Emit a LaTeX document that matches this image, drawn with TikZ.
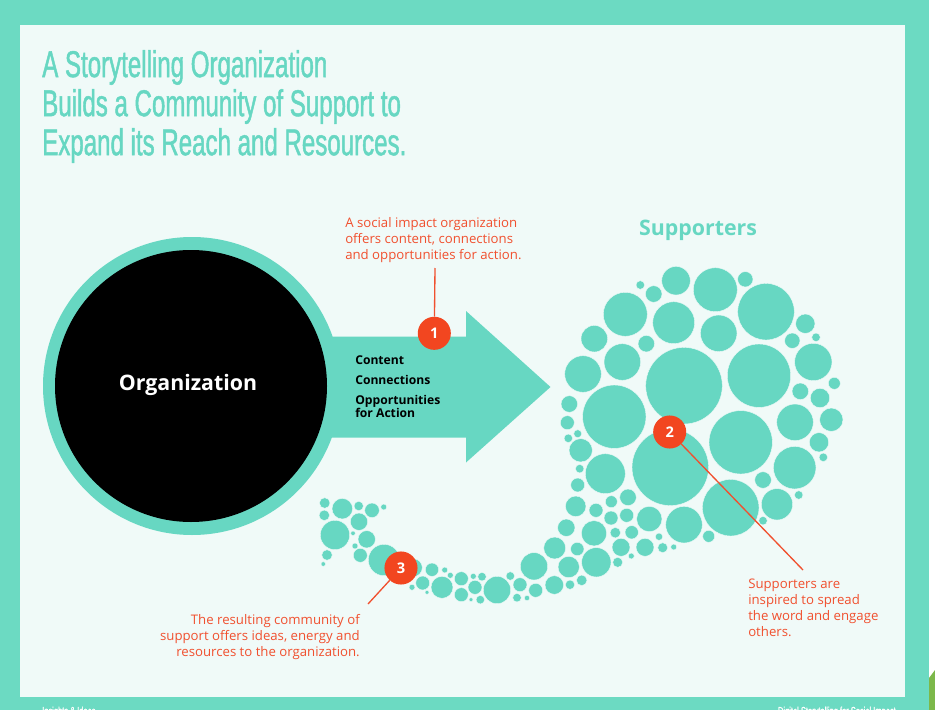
\documentclass[tikz,border=0pt]{standalone}
\usepackage{xcolor}
\usepackage{fontspec}
\setmainfont{Open Sans}
\newfontfamily\titlefont[FakeStretch=0.645,FakeBold=1.2]{Liberation Sans}
\usetikzlibrary{
  arrows.meta,
  positioning
}
\definecolor{stEdge}{HTML}{6CDAC2}
\definecolor{stTeal}{HTML}{67D7C2}
\definecolor{stPanel}{HTML}{F0FAF8}
\definecolor{stRed}{HTML}{F24620}
\definecolor{stNote}{HTML}{F0502F}
\definecolor{stCorner}{HTML}{7CB84A}
\tikzset{
  bubble/.style={fill=stTeal, draw=stPanel, line width=0.3pt},
  headline/.style={font=\titlefont\fontsize{28}{29.3}\selectfont, text=stTeal, align=left, anchor=west, inner sep=0pt},
  note/.style={font=\fontsize{9.9}{12}\selectfont, text=stNote, inner sep=0pt},
  badge/.style={circle, fill=stRed, minimum size=24.8pt, inner sep=0pt, text=white, font=\fontsize{11}{13}\selectfont\bfseries},
  leader/.style={stNote, line width=1pt},
  listlabel/.style={font=\fontsize{9.1}{9.75}\selectfont\bfseries, align=left, anchor=west, inner sep=0pt},
  biglabel/.style={font=\fontsize{16}{18}\selectfont\bfseries},
  footer/.style={font=\titlefont\fontsize{8.7}{10}\selectfont, text=white, inner sep=0pt}
}
\begin{document}
\begin{tikzpicture}[x=0.75pt,y=-0.75pt]
  \clip (0,0) rectangle (935,710);
  \fill[stEdge] (0,0) rectangle (935,710);
  \fill[white] (929,0) rectangle (935,680);
  \fill[stCorner] (929,678) -- (935,670) -- (935,710) -- (929,710) -- cycle;
  \fill[stPanel] (20,25) rectangle (905,697);

  \node[footer, anchor=west] (leftfoot) at (42,712) {Insights \& Ideas};
  \node[footer, anchor=east] (rightfoot) at (896,712) {Digital Storytelling for Social Impact};

  \node[headline] (title) at (42,106.5) {A Storytelling Organization\\Builds a Community of Support to\\Expand its Reach and Resources.};

  % organization and arrow
  \node[circle, fill=stTeal, minimum size=223.5pt, inner sep=0pt] (ring) at (192,386) {};
  \fill[stTeal] (325,336.5) -- (466,336.5) -- (466,311) -- (550.5,387) -- (466,462.5) -- (466,437.5) -- (325,437.5) -- cycle;
  \node[circle, fill=black, minimum size=204pt, inner sep=0pt] (org) at (191,386) {};
  \node[biglabel, text=white] (orglabel) at (188,385) {Organization};

  \node[listlabel] (content) at (355,360) {Content};
  \node[listlabel, below=15pt of content.west, anchor=west] (connect) {Connections};
  \node[listlabel, below=19.5pt of connect.west, anchor=west] (opport) {Opportunities\\for Action};

  % supporters
  \foreach \x/\y/\r in {
    640.3/285/4.3, 653.7/294/8.3, 676/280.7/14.3, 715.3/289.7/22, 745.3/279.3/7.7, 766/311.7/28.3,
    805.3/323.7/9.7, 792.3/340.7/7.7, 816/337.3/4.3, 813.3/362/18.7, 834.3/383.3/6, 800.3/391.3/8.3,
    820/398/9.7, 831.3/419.7/11.7, 795/422.3/18.3, 819/442.3/9.7, 823.3/457.3/4.3, 794.7/467.7/21.3,
    798.7/495/4.3, 777/504.3/15.7, 763/480/8.3, 763/520.7/4.3, 730.7/507.7/28.3, 740.7/442.3/31.7,
    759/375.7/31.7, 718.7/333.3/18.3, 673.7/322.7/21, 625.3/314.3/22, 594.3/338.7/13.3, 646.3/343.7/8.3,
    622.3/362/18.3, 583/374/18.3, 684/385.7/38.3, 614.3/416.7/31.7, 670.3/467.3/38.3, 569.3/404/8.3,
    567.3/422.7/7, 577.7/433.7/4, 568.3/438.3/4.3, 580.7/450.3/11.7, 579.7/468.7/4.3, 605.3/473.7/20,
    577.7/485/7, 575.7/506.3/10.3, 596/510.3/7, 611.3/501.7/6, 628/497.3/8.3, 611/518/7,
    626.7/515.3/7, 649.3/519/12.7, 684/524.7/18.3, 708.7/536.3/6, 566.3/527.7/8.7, 594/533.3/12.7,
    615.3/532.7/5.3, 631.7/532.3/6.7, 645/547.3/9, 662.7/547.7/5, 673.7/547/3, 659/536.7/3.7,
    631.3/556/3, 621/547.3/9, 617.7/562.3/5,
    % tail
    324.7/503/5.3, 324.3/515.3/5.3, 342.3/508.7/10.3, 358.7/506/4.7, 372/510.3/7.3, 383.7/507/3,
    359/521.7/8.7, 335/535/14.7, 353/533.3/2.3, 366.7/539.3/8.7, 355/546/3, 360.3/555.3/7,
    327/555/5.3, 323.3/564/2.3, 384/560/15.7, 413.3/567.7/9, 432/569.7/6.7, 444.7/570/3,
    450.3/575.3/3, 422.7/583/7, 412/587.3/3, 427/592.3/2, 442/587.3/11, 461.3/578.7/7,
    473.3/576.3/3, 482/576.7/4.3, 475/587.3/7, 461.3/594.7/7, 471/599.7/2, 480.3/599.7/4.3,
    497/590/13.7, 510.3/576/4.3, 520/584.7/7, 517/597.7/4.3, 527/598/2.7, 535.7/590.3/7,
    534/566.3/13.7, 554.7/548/11, 554.3/585/9.3, 570/584.7/4.7, 581.7/580.3/5.3, 568.7/567/10.7,
    577.3/549/6.7, 596.3/562.3/14.7}
    \path[bubble] (\x,\y) circle[radius=\r];

  \node[biglabel, text=stTeal] (supporters) at (698,230) {Supporters};

  % notes and badges
  \node[badge] (one) at (434.3,333.3) {1};
  \node[badge] (two) at (669.7,432) {2};
  \node[badge] (three) at (401,568) {3};

  \node[note, anchor=west, align=left] (noteone) at (345,240) {A social impact organization\\offers content, connections\\and opportunities for action.};
  \node[note, anchor=west, align=left] (notetwo) at (748,607.5) {Supporters are\\inspired to spread\\the word and engage\\others.};
  \node[note, anchor=east, align=right] (notethree) at (360,637.5) {The resulting community of\\support offers ideas, energy and\\resources to the organization.};

  \coordinate (endone) at (435,268);
  \coordinate (endtwo) at (803,570);
  \coordinate (endthree) at (368,604);
  \draw[leader] (one) -- (endone);
  \draw[leader] (two) -- (endtwo);
  \draw[leader] (three) -- (endthree);
\end{tikzpicture}
\end{document}
